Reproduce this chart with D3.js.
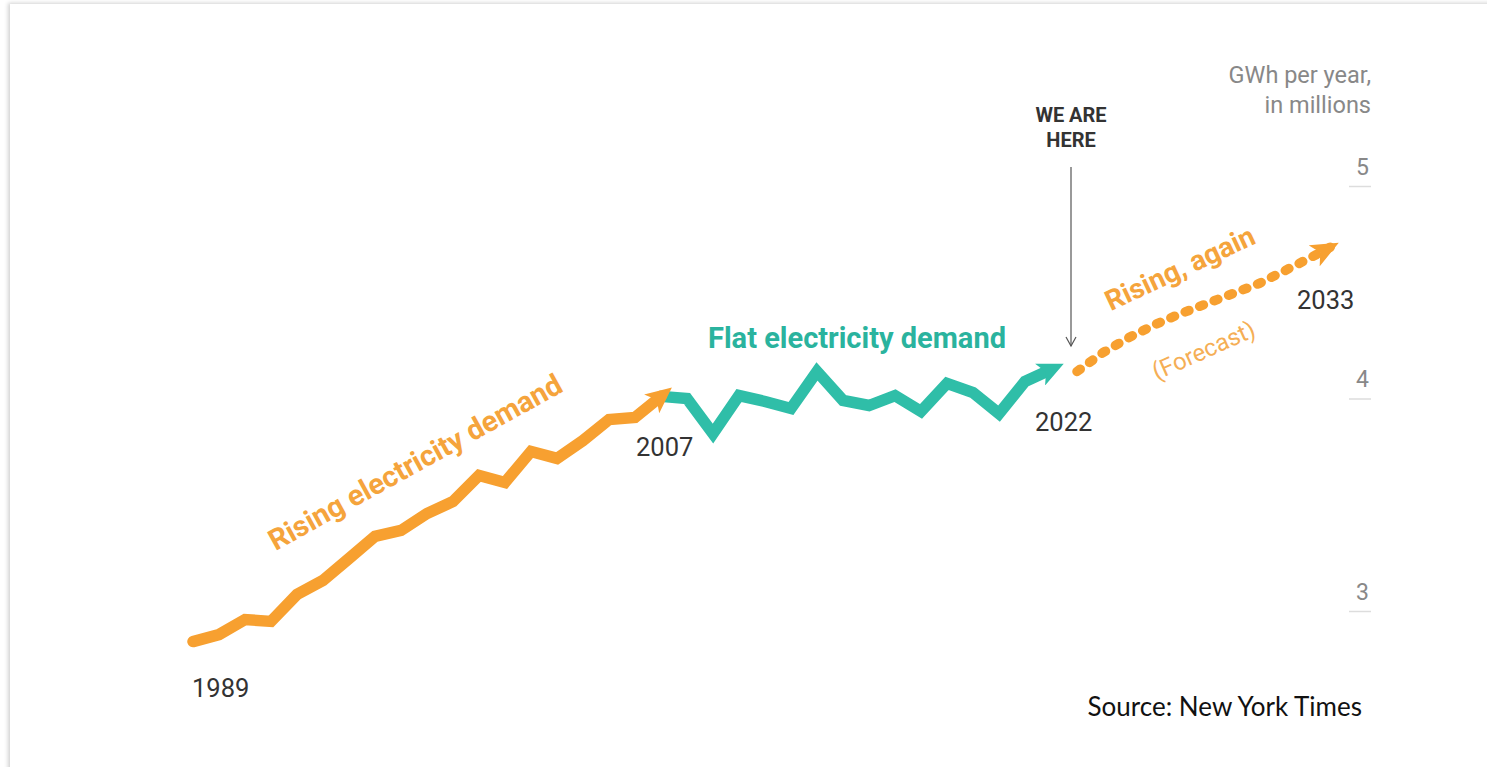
<!DOCTYPE html>
<html>
<head>
<meta charset="utf-8">
<script src="https://cdn.jsdelivr.net/npm/d3@7"></script>
<style>
  html, body { margin: 0; padding: 0; background: #fff; }
  body { width: 1487px; height: 767px; overflow: hidden; position: relative; }
  #card { position: absolute; left: 10px; top: 4px; width: 1600px; height: 900px;
          background: #fff; box-shadow: -2px -1px 4px rgba(0,0,0,0.18); }
  svg { position: absolute; left: 0; top: 0; }
</style>
</head>
<body>
<div id="card"></div>
<svg id="chart" width="1487" height="767"></svg>
<script>
// ---- data ----
const risingYears  = [1989,1990,1991,1992,1993,1994,1995,1996,1997,1998,1999,2000,2001,2002,2003,2004,2005,2006,2007];
const risingValues = [2.856,2.889,2.960,2.951,3.078,3.144,3.247,3.351,3.379,3.459,3.515,3.638,3.605,3.751,3.718,3.802,3.901,3.911,4.010];
const flatYears    = [2007,2008,2009,2010,2011,2012,2013,2014,2015,2016,2017,2018,2019,2020,2021,2022];
const flatValues   = [4.010,4.000,3.835,4.014,3.986,3.953,4.127,3.991,3.967,4.014,3.939,4.071,4.028,3.929,4.080,4.136];
const forecastYears  = [2023,2024,2025,2026,2027,2028,2029,2030,2031,2032,2033];
const forecastValues = [4.127,4.216,4.287,4.348,4.400,4.447,4.494,4.541,4.602,4.664,4.729];
const yTicks = [3,4,5];
const yearLabels = [1989,2007,2022,2033];

const ORANGE = "#f7a030", TEAL = "#2fbea8";
const FONT = "Roboto, 'Liberation Sans', sans-serif";
const svg = d3.select("#chart");
const x = d3.scaleLinear().domain([1989,2007]).range([193,661]);
const y = d3.scaleLinear().domain([3,5]).range([611,186]);

const defs = svg.append("defs");
function arrow(id, color, w, h, back) {
  defs.append("marker").attr("id", id).attr("viewBox", `0 0 ${w} ${h}`)
    .attr("markerUnits","userSpaceOnUse").attr("markerWidth", w).attr("markerHeight", h)
    .attr("refX", back).attr("refY", h/2).attr("orient","auto")
    .append("path").attr("d", `M0,0 L${w},${h/2} L0,${h} L${w*0.25},${h/2} Z`).attr("fill", color);
}
arrow("arrO", ORANGE, 26, 24, 12);
arrow("arrT", TEAL, 26, 24, 12);
arrow("arrF", ORANGE, 28, 24, 26);

// y axis ticks (right side)
const yAxis = d3.axisRight(y).tickValues(yTicks).tickSize(0).tickFormat(d3.format("d"));
const ax = svg.append("g").attr("transform","translate(1349,0)").call(yAxis);
ax.select(".domain").remove();
ax.selectAll(".tick text").attr("x", 20).attr("y", -12).attr("dy", 0).attr("text-anchor","end")
  .attr("font-family",FONT).attr("font-size",23).attr("fill","#888");
ax.selectAll(".tick").append("line").attr("x1",0).attr("x2",22).attr("stroke","#ddd").attr("stroke-width",1.5);

svg.append("text").attr("x",1371).attr("y",83).attr("text-anchor","end")
  .attr("font-family",FONT).attr("font-size",23.5).attr("fill","#888").text("GWh per year,");
svg.append("text").attr("x",1371).attr("y",113).attr("text-anchor","end")
  .attr("font-family",FONT).attr("font-size",23.5).attr("fill","#888").text("in millions");

const line = d3.line().x(d => x(d[0])).y(d => y(d[1]));

// forecast dotted
svg.append("path").datum(d3.zip(forecastYears, forecastValues))
  .attr("d", line).attr("fill","none").attr("stroke",ORANGE).attr("stroke-width",9.5)
  .attr("stroke-linecap","round").attr("stroke-dasharray","4 11.5")
  .attr("marker-end","url(#arrF)");

// flat (teal)
svg.append("path").datum(d3.zip(flatYears, flatValues))
  .attr("d", line).attr("fill","none").attr("stroke",TEAL).attr("stroke-width",11.5)
  .attr("stroke-linejoin","miter").attr("stroke-linecap","butt")
  .attr("marker-end","url(#arrT)");

// rising (orange)
svg.append("path").datum(d3.zip(risingYears, risingValues))
  .attr("d", line).attr("fill","none").attr("stroke",ORANGE).attr("stroke-width",11.5)
  .attr("stroke-linejoin","miter").attr("stroke-linecap","round")
  .attr("marker-end","url(#arrO)");

// year labels
const yearPos = {1989:[192,697],2007:[636,456],2022:[1035,431],2033:[1297,309]};
svg.selectAll(".yr").data(yearLabels).enter().append("text")
  .attr("x", d => yearPos[d][0]).attr("y", d => yearPos[d][1])
  .attr("font-family",FONT).attr("font-size",25.5).attr("fill","#333")
  .text(d => d);

// annotations
svg.append("text").attr("x",857).attr("y",348).attr("text-anchor","middle")
  .attr("font-family",FONT).attr("font-weight",700).attr("font-size",29).attr("fill","#2ab39e")
  .text("Flat electricity demand");
svg.append("text").attr("transform","translate(420,471) rotate(-29)").attr("text-anchor","middle")
  .attr("font-family",FONT).attr("font-weight",700).attr("font-size",29).attr("fill","#f5a43c")
  .text("Rising electricity demand");
svg.append("text").attr("transform","translate(1184,277) rotate(-25)").attr("text-anchor","middle")
  .attr("font-family",FONT).attr("font-weight",700).attr("font-size",28).attr("fill","#f5a43c")
  .text("Rising, again");
svg.append("text").attr("transform","translate(1207,358) rotate(-24)").attr("text-anchor","middle")
  .attr("font-family",FONT).attr("font-size",24).attr("fill","#f5ae55")
  .text("(Forecast)");

svg.append("text").attr("x",1071).attr("y",122).attr("text-anchor","middle")
  .attr("font-family",FONT).attr("font-weight",700).attr("font-size",20).attr("fill","#333").text("WE ARE");
svg.append("text").attr("x",1071).attr("y",147).attr("text-anchor","middle")
  .attr("font-family",FONT).attr("font-weight",700).attr("font-size",20).attr("fill","#333").text("HERE");
svg.append("line").attr("x1",1071).attr("x2",1071).attr("y1",167).attr("y2",346)
  .attr("stroke","#555").attr("stroke-width",1.2);
svg.append("path").attr("d","M1066,337 L1071,346 L1076,337").attr("fill","none")
  .attr("stroke","#555").attr("stroke-width",1.2);

svg.append("text").attr("x",1362).attr("y",716).attr("text-anchor","end")
  .attr("font-family","Lato, 'Open Sans', sans-serif").attr("font-size",26).attr("fill","#111")
  .text("Source: New York Times");
</script>
</body>
</html>
